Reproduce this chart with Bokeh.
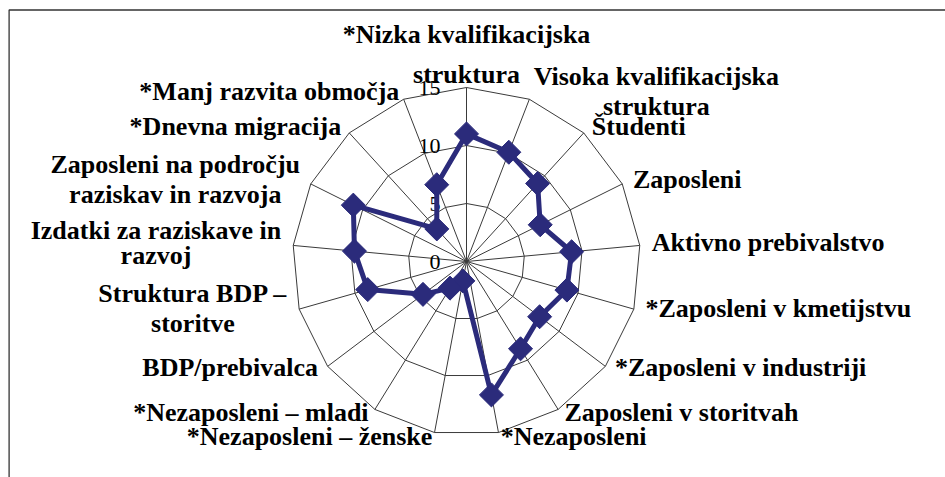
import numpy as np
from bokeh.plotting import figure
from bokeh.models import Range1d
from bokeh.core.properties import value
from bokeh.embed import file_html
from bokeh.resources import INLINE

# ---- data ----
categories = [
    "*Nizka kvalifikacijska\nstruktura",
    "Visoka kvalifikacijska\nstruktura",
    "Študenti",
    "Zaposleni",
    "Aktivno prebivalstvo",
    "*Zaposleni v kmetijstvu",
    "*Zaposleni v industriji",
    "Zaposleni v storitvah",
    "*Nezaposleni",
    "*Nezaposleni – ženske",
    "*Nezaposleni – mladi",
    "BDP/prebivalca",
    "Struktura BDP –\nstoritve",
    "Izdatki za raziskave in\nrazvoj",
    "Zaposleni na področju\nraziskav in razvoja",
    "*Dnevna migracija",
    "*Manj razvita območja",
]
values = [11.0, 10.1, 9.1, 7.1, 9.1, 9.0, 7.9, 8.85, 11.7,
          1.7, 2.7, 4.7, 8.85, 9.7, 10.9, 3.8, 7.1]
ring_values = [5, 10, 15]
tick_values = [0, 5, 10, 15]
tick_labels = ["0", "5", "10", "15"]

# ---- layout ----
W, H = 945, 477
CX, CY = 466.0, 261.0
R_PX = 174.0
VMAX = 15.0
SCALE = R_PX / VMAX
GAP = 12.0
LINE_UNIT = 30.0
NAVY = "#2B2B7B"
GRID = "#3a3a3a"
FONT = value("Liberation Serif")

n = len(categories)
ang = np.arange(n) * 2 * np.pi / n
sn, cs = np.sin(ang), np.cos(ang)

p = figure(width=W, height=H, x_range=Range1d(0, W), y_range=Range1d(H, 0),
           output_backend="svg", toolbar_location=None, min_border=0)
p.axis.visible = False
p.grid.visible = False
p.outline_line_color = None
p.background_fill_color = "white"
p.border_fill_color = "white"

# chart border (top and left edges visible)
p.line(x=[8.6, 8.6, W], y=[H, 9.5, 9.5], line_color="#333333", line_width=1.3)

# rings
for rv in ring_values:
    rx = CX + rv * SCALE * sn
    ry = CY - rv * SCALE * cs
    p.line(x=list(rx) + [rx[0]], y=list(ry) + [ry[0]], line_color=GRID, line_width=1)

# spokes
ox = CX + VMAX * SCALE * sn
oy = CY - VMAX * SCALE * cs
p.segment(x0=[CX] * n, y0=[CY] * n, x1=list(ox), y1=list(oy), line_color=GRID, line_width=1)

# tick labels
p.text(x=[CX - 26] * len(tick_values), y=[CY - v * SCALE for v in tick_values], text=tick_labels,
       text_align="right", text_baseline="middle", text_font=FONT, text_font_size="22px",
       text_color="black")

# series
vals = np.array(values)
sx = CX + vals * SCALE * sn
sy = CY - vals * SCALE * cs
p.line(x=list(sx) + [sx[0]], y=list(sy) + [sy[0]], line_color=NAVY, line_width=5, line_join="round")
p.scatter(x=sx, y=sy, marker="square", size=17, angle=np.pi / 4, fill_color=NAVY, line_color=NAVY)

# category labels
line_h = {0: 1.4, 13: 0.85}
for i, lab in enumerate(categories):
    s, c = sn[i], cs[i]
    px = CX + (R_PX + GAP) * s
    py = CY - (R_PX + GAP) * c
    nl = lab.count("\n") + 1
    lh = line_h.get(i, 1.03)
    if abs(s) < 0.05:
        anchor = "center"
        py = py - (nl - 1) * lh * LINE_UNIT / 2
    else:
        anchor = "center_left" if s > 0 else "center_right"
        py = py + (-2 + 6 * c)
    p.text(x=[px], y=[py], text=[lab], anchor=anchor, text_align="center", text_baseline="middle",
           text_font=FONT, text_font_style="bold", text_font_size="26px", text_color="black",
           text_line_height=lh)

open("out.html", "w").write(file_html(p, INLINE))
